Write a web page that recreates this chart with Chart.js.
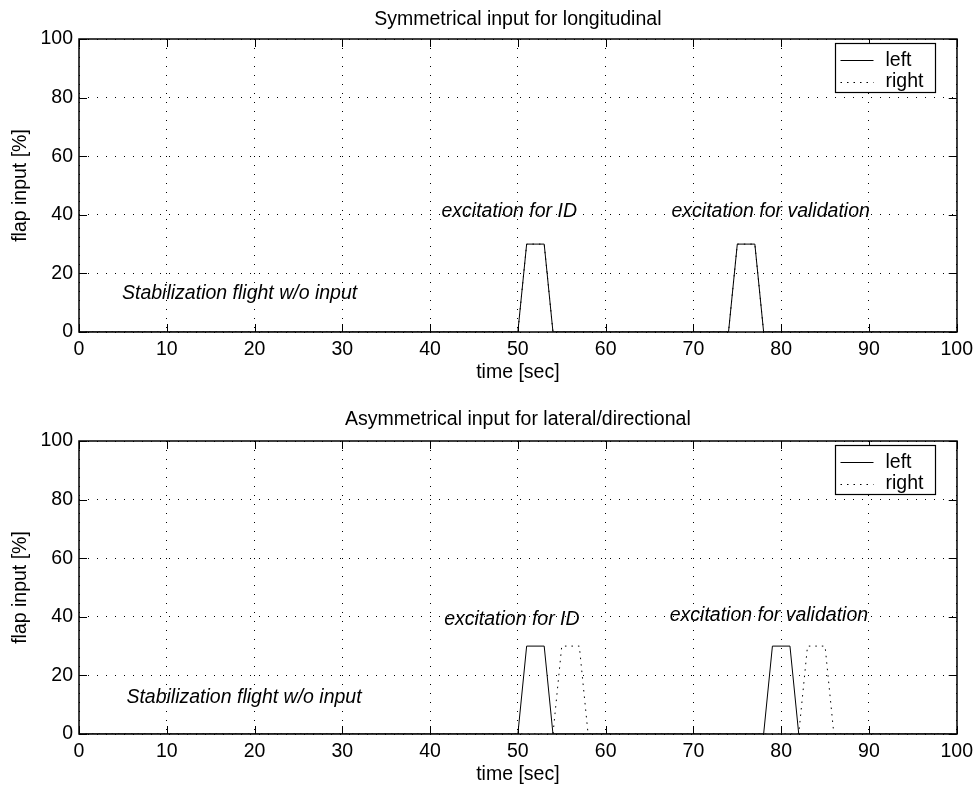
<!DOCTYPE html>
<html>
<head>
<meta charset="utf-8">
<script src="https://cdn.jsdelivr.net/npm/chart.js@4.4.0/dist/chart.umd.min.js"></script>
<style>
    html, body { margin: 0; padding: 0; background: #fff; }
    #wrap { position: relative; width: 979px; height: 789px; }
    canvas { position: absolute; left: 0; }
</style>
</head>
<body>
<div id="wrap">
    <canvas id="sym-chart" width="979" height="400" style="top:0"></canvas>
    <canvas id="asym-chart" width="979" height="389" style="top:400px"></canvas>
</div>
<script>
// tick labels
const timeTicks = [0, 10, 20, 30, 40, 50, 60, 70, 80, 90, 100];
const flapTicks = [0, 20, 40, 60, 80, 100];

// symmetrical input (longitudinal)
const symTimeLeft = [0, 50, 51, 53, 54, 74, 75, 77, 78, 100];
const symFlapLeft = [0, 0, 30, 30, 0, 0, 30, 30, 0, 0];
const symTimeRight = [0, 50, 51, 53, 54, 74, 75, 77, 78, 100];
const symFlapRight = [0, 0, 30, 30, 0, 0, 30, 30, 0, 0];

// asymmetrical input (lateral/directional)
const asymTimeLeft = [0, 50, 51, 53, 54, 78, 79, 81, 82, 100];
const asymFlapLeft = [0, 0, 30, 30, 0, 0, 30, 30, 0, 0];
const asymTimeRight = [0, 54, 55, 57, 58, 82, 83, 85, 86, 100];
const asymFlapRight = [0, 0, 30, 30, 0, 0, 30, 30, 0, 0];

const FONT = '"Liberation Sans", Arial, Helvetica, sans-serif';
const FSIZE = 19.5;

function toPoints(xs, ys) {
    return xs.map((v, i) => ({ x: v, y: ys[i] }));
}

// MATLAB style frame, inward ticks, titles, text notes and legend
const matlabLook = {
    id: 'matlabLook',
    afterDraw(chart, args, opts) {
        const { ctx, chartArea: a, scales: { x, y } } = chart;
        ctx.save();

        ctx.strokeStyle = '#000';
        ctx.lineWidth = 1;
        ctx.beginPath();
        x.ticks.forEach(t => {
            const px = Math.round(x.getPixelForValue(t.value)) + 0.5;
            ctx.moveTo(px, a.bottom); ctx.lineTo(px, a.bottom - 8);
            ctx.moveTo(px, a.top); ctx.lineTo(px, a.top + 8);
        });
        y.ticks.forEach(t => {
            const py = Math.round(y.getPixelForValue(t.value)) + 0.5;
            ctx.moveTo(a.left, py); ctx.lineTo(a.left + 8, py);
            ctx.moveTo(a.right, py); ctx.lineTo(a.right - 8, py);
        });
        ctx.stroke();

        ctx.lineWidth = 1.5;
        ctx.strokeRect(Math.round(a.left), Math.round(a.top), Math.round(a.right - a.left), Math.round(a.bottom - a.top));

        ctx.fillStyle = '#000';
        ctx.font = FSIZE + 'px ' + FONT;
        ctx.textAlign = 'center';
        ctx.textBaseline = 'alphabetic';
        const cx = (a.left + a.right) / 2;
        ctx.fillText(opts.title, cx, a.top - opts.titleGap);
        ctx.fillText('time [sec]', cx, a.bottom + 46);

        ctx.save();
        ctx.translate(21, (a.top + a.bottom) / 2);
        ctx.rotate(-Math.PI / 2);
        ctx.textBaseline = 'middle';
        ctx.fillText('flap input [%]', 0, 0);
        ctx.restore();

        ctx.font = 'italic ' + FSIZE + 'px ' + FONT;
        ctx.textAlign = 'left';
        ctx.textBaseline = 'middle';
        opts.notes.forEach(n => {
            ctx.fillText(n.text, x.getPixelForValue(n.x), y.getPixelForValue(n.y));
        });

        // legend
        const lx = Math.round(a.right - 122) + 0.5, ly = Math.round(a.top + 4) + 0.5;
        ctx.fillStyle = '#fff';
        ctx.fillRect(lx, ly, 100, 49);
        ctx.lineWidth = 1.2;
        ctx.strokeStyle = '#000';
        ctx.strokeRect(lx, ly, 100, 49);
        ctx.font = FSIZE + 'px ' + FONT;
        ctx.textBaseline = 'alphabetic';
        chart.data.datasets.forEach((ds, i) => {
            const ly2 = ly + 16 + i * 22;
            ctx.lineWidth = 1;
            ctx.setLineDash(ds.borderDash || []);
            ctx.beginPath();
            ctx.moveTo(lx + 5, Math.round(ly2) + 0.5);
            ctx.lineTo(lx + 38, Math.round(ly2) + 0.5);
            ctx.stroke();
            ctx.setLineDash([]);
            ctx.fillStyle = '#000';
            ctx.fillText(ds.label, lx + 50, ly + 22 + i * 21);
        });

        ctx.restore();
    }
};

function makeChart(canvasId, leftX, leftY, rightX, rightY, title, notes, topPad, xHeight, titleGap) {
    const canvas = document.getElementById(canvasId);
    const ctx = canvas.getContext('2d');
    return new Chart(ctx, {
        type: 'line',
        data: {
            datasets: [{
                label: 'left',
                data: toPoints(leftX, leftY),
                borderColor: '#000',
                borderWidth: 1,
                pointRadius: 0,
                tension: 0,
                fill: false
            }, {
                label: 'right',
                data: toPoints(rightX, rightY),
                borderColor: '#000',
                borderWidth: 1,
                borderDash: [1.5, 5],
                pointRadius: 0,
                tension: 0,
                fill: false
            }]
        },
        options: {
            responsive: false,
            animation: false,
            layout: { padding: { left: 0, right: 17, top: topPad, bottom: 0 } },
            scales: {
                x: {
                    type: 'linear',
                    min: 0,
                    max: 100,
                    afterBuildTicks: scale => { scale.ticks = timeTicks.map(v => ({ value: v })); },
                    afterFit: scale => { scale.height = xHeight; },
                    ticks: { color: '#000', padding: 6, maxRotation: 0, font: { family: FONT, size: FSIZE } },
                    grid: { color: '#000', lineWidth: 1, drawTicks: false },
                    border: { display: false, dash: [1, 8] }
                },
                y: {
                    min: 0,
                    max: 100,
                    afterBuildTicks: scale => { scale.ticks = flapTicks.map(v => ({ value: v })); },
                    afterFit: scale => { scale.width = 79; },
                    ticks: { color: '#000', padding: 6, font: { family: FONT, size: FSIZE } },
                    grid: { color: '#000', lineWidth: 1, drawTicks: false },
                    border: { display: false, dash: [1, 8] }
                }
            },
            plugins: {
                legend: { display: false },
                tooltip: { enabled: false },
                matlabLook: { title: title, notes: notes, titleGap: titleGap }
            }
        },
        plugins: [matlabLook]
    });
}

makeChart('sym-chart', symTimeLeft, symFlapLeft, symTimeRight, symFlapRight,
    'Symmetrical input for longitudinal',
    [
        { text: 'excitation for ID', x: 41.3, y: 41.0 },
        { text: 'excitation for validation', x: 67.5, y: 41.0 },
        { text: 'Stabilization flight w/o input', x: 4.9, y: 13.0 }
    ], 39, 68, 14);

makeChart('asym-chart', asymTimeLeft, asymFlapLeft, asymTimeRight, asymFlapRight,
    'Asymmetrical input for lateral/directional',
    [
        { text: 'excitation for ID', x: 41.6, y: 39.2 },
        { text: 'excitation for validation', x: 67.3, y: 40.4 },
        { text: 'Stabilization flight w/o input', x: 5.4, y: 12.5 }
    ], 41, 55, 16);
</script>
</body>
</html>
